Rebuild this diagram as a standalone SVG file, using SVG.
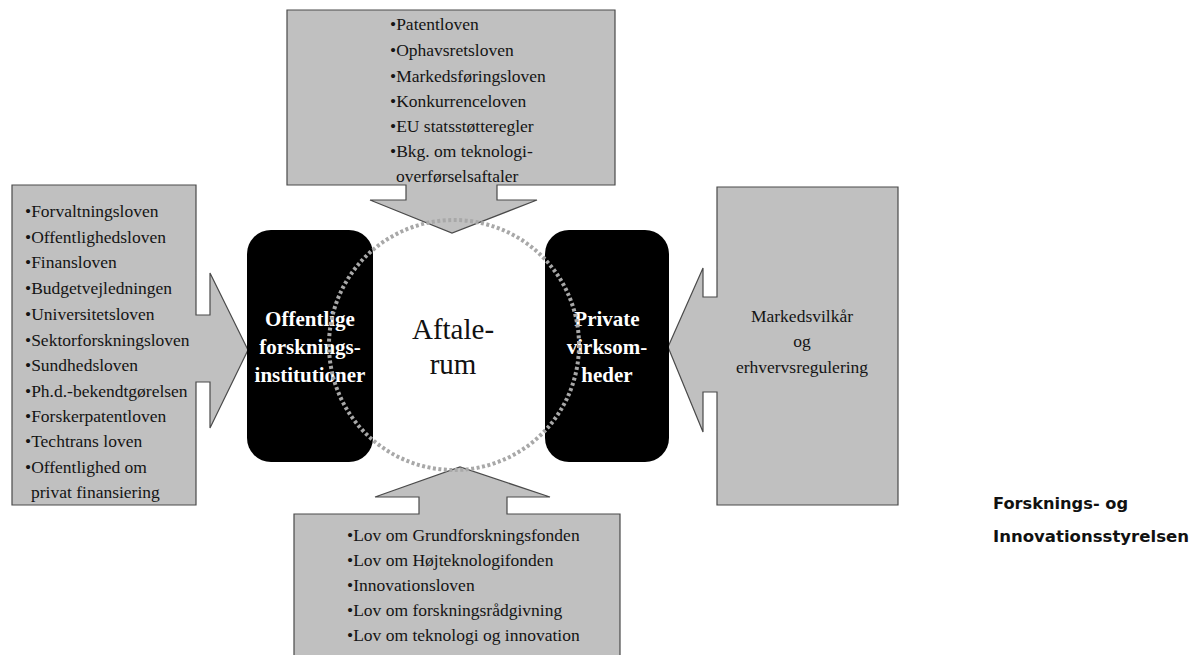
<svg xmlns="http://www.w3.org/2000/svg" width="1203" height="655" viewBox="0 0 1203 655">
<style>
.call{fill:#c0c0c0;stroke:#4a4a4a;stroke-width:1.2}
.lst{font-family:"Liberation Serif","Times New Roman",serif;font-size:17.5px;fill:#141414}
.blk{fill:#000}
.wt{font-family:"Liberation Serif","Times New Roman",serif;font-size:21px;font-weight:bold;fill:#fff;text-anchor:middle}
.ct{font-family:"Liberation Serif","Times New Roman",serif;font-size:29px;fill:#111;text-anchor:middle}
.org{font-family:"DejaVu Sans",Verdana,sans-serif;font-size:15px;font-weight:bold;fill:#111}
</style>
<rect width="1203" height="655" fill="#fff"/>
<g id="connectors">
<g id="top-callout">
<polygon class="call" points="287,10 615,10 615,185 497,185 497,200 537,200 452,233 370,200 406,200 406,185 287,185"/>
<text class="lst" x="390"><tspan x="390" y="30">•Patentloven</tspan><tspan x="390" y="56">•Ophavsretsloven</tspan><tspan x="390" y="82">•Markedsføringsloven</tspan><tspan x="390" y="107">•Konkurrenceloven</tspan><tspan x="390" y="132">•EU statsstøtteregler</tspan><tspan x="390" y="157">•Bkg. om teknologi-</tspan><tspan x="396" y="182">overførselsaftaler</tspan></text>
</g>
<g id="left-callout">
<polygon class="call" points="12,185 196,185 196,315 210,315 210,273 248,350 210,428 210,382 196,382 196,505 12,505"/>
<text class="lst"><tspan x="25" y="217">•Forvaltningsloven</tspan><tspan x="25" y="243">•Offentlighedsloven</tspan><tspan x="25" y="268">•Finansloven</tspan><tspan x="25" y="294">•Budgetvejledningen</tspan><tspan x="25" y="320">•Universitetsloven</tspan><tspan x="25" y="346">•Sektorforskningsloven</tspan><tspan x="25" y="371">•Sundhedsloven</tspan><tspan x="25" y="397">•Ph.d.-bekendtgørelsen</tspan><tspan x="25" y="422">•Forskerpatentloven</tspan><tspan x="25" y="447">•Techtrans loven</tspan><tspan x="25" y="473">•Offentlighed om</tspan><tspan x="31" y="498">privat finansiering</tspan></text>
</g>
<g id="right-callout">
<polygon class="call" points="717,187 898,187 898,505 717,505 717,392 703,392 703,432 668,347 703,268 703,297 717,297"/>
<text class="lst" text-anchor="middle"><tspan x="802" y="322">Markedsvilkår</tspan><tspan x="802" y="347">og</tspan><tspan x="802" y="373">erhvervsregulering</tspan></text>
</g>
<g id="bottom-callout">
<polygon class="call" points="294,514 419,514 419,497 375,497 460,467 550,497 507,497 507,514 620,514 620,660 294,660"/>
<text class="lst"><tspan x="347" y="541">•Lov om Grundforskningsfonden</tspan><tspan x="347" y="566">•Lov om Højteknologifonden</tspan><tspan x="347" y="591">•Innovationsloven</tspan><tspan x="347" y="616">•Lov om forskningsrådgivning</tspan><tspan x="347" y="641">•Lov om teknologi og innovation</tspan></text>
</g>
</g>
<g id="offentlige">
<rect class="blk" x="247" y="230" width="126" height="232" rx="24"/>
<text class="wt"><tspan x="310" y="326">Offentlige</tspan><tspan x="310" y="354">forsknings-</tspan><tspan x="310" y="382">institutioner</tspan></text>
</g>
<g id="private">
<rect class="blk" x="545" y="230" width="124" height="232" rx="24"/>
<text class="wt"><tspan x="607" y="326">Private</tspan><tspan x="607" y="354">virksom-</tspan><tspan x="607" y="382">heder</tspan></text>
</g>
<g id="aftalerum">
<circle cx="454" cy="345" r="125" fill="none" stroke="#a8a8a8" stroke-width="4" stroke-dasharray="3 2.5"/>
<text class="ct"><tspan x="453" y="339">Aftale-</tspan><tspan x="453" y="374">rum</tspan></text>
</g>
<g id="org">
<text class="org" x="993" y="509" textLength="135" lengthAdjust="spacingAndGlyphs">Forsknings- og</text>
<text class="org" x="993" y="542" textLength="196" lengthAdjust="spacingAndGlyphs">Innovationsstyrelsen</text>
</g>
</svg>
